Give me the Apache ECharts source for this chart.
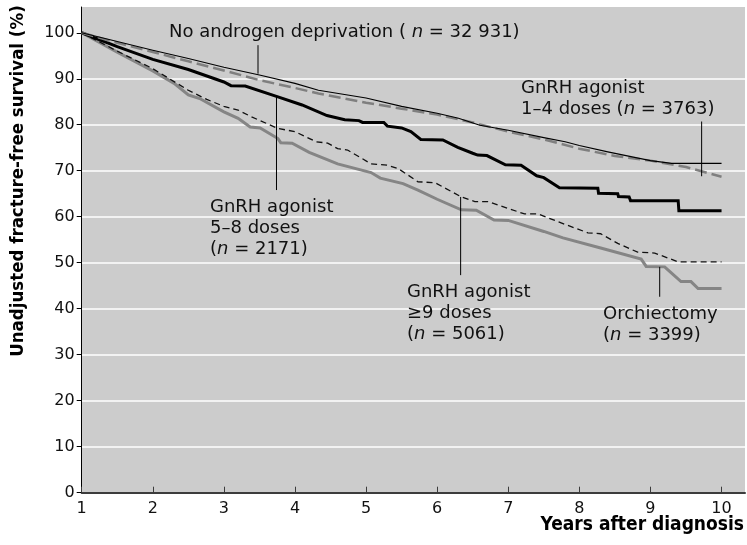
<!DOCTYPE html>
<html>
<head>
<meta charset="utf-8">
<script src="https://cdn.jsdelivr.net/npm/echarts@6/dist/echarts.min.js"></script>
<style>
  html, body { margin: 0; padding: 0; background: #ffffff; }
  #chart { width: 747px; height: 545px; }
</style>
</head>
<body>
<div id="chart"></div>
<script>
// Fracture-free survival curves by androgen-deprivation group, [years, %]
const noAdt = [
  [1, 100], [1.5, 98.1], [2, 96.2], [2.5, 94.4], [3, 92.5], [3.5, 90.8], [4, 89.0],
  [4.33, 87.5], [5, 85.8], [5.5, 84.0], [6, 82.5], [6.3, 81.4], [6.6, 79.9], [7, 78.8],
  [7.5, 77.2], [7.8, 76.3], [8, 75.5], [8.4, 74.1], [9, 72.2], [9.3, 71.6], [10, 71.6]
];
const doses1to4 = [
  [1, 100], [1.5, 97.8], [2, 95.8], [2.5, 93.8], [3, 91.8], [3.5, 89.7], [4, 88.0],
  [4.33, 86.8], [5, 84.8], [5.5, 83.5], [6, 82.2], [6.5, 80.5], [7, 78.5], [7.5, 76.8],
  [8, 74.8], [8.5, 73.2], [9, 72.2], [9.5, 70.8], [10, 68.7]
];
const doses5to8 = [
  [1, 100], [1.5, 97.0], [2, 94.2], [2.5, 92.0], [3, 89.3], [3.1, 88.5], [3.3, 88.4],
  [3.75, 86.1], [4.1, 84.3], [4.45, 82.0], [4.7, 81.1], [4.9, 80.9], [4.95, 80.5],
  [5.25, 80.5], [5.3, 79.7], [5.5, 79.3], [5.63, 78.5], [5.77, 76.8], [6.08, 76.7],
  [6.29, 75.1], [6.5, 73.8], [6.57, 73.4], [6.7, 73.3], [6.96, 71.3], [7.18, 71.2],
  [7.4, 68.9], [7.5, 68.5], [7.72, 66.3], [8.26, 66.2], [8.27, 65.1], [8.54, 65.0],
  [8.55, 64.4], [8.7, 64.3], [8.72, 63.5], [9.39, 63.5], [9.4, 61.3], [10, 61.3]
];
const doses9plus = [
  [1, 100], [1.5, 96.0], [2, 92.2], [2.5, 87.5], [2.76, 85.5], [3, 84.0], [3.2, 83.2],
  [3.39, 81.7], [3.76, 79.2], [4, 78.5], [4.3, 76.3], [4.46, 76.0], [4.6, 74.8],
  [4.74, 74.5], [5.07, 71.5], [5.3, 71.2], [5.45, 70.5], [5.73, 67.6], [5.97, 67.4],
  [6.34, 64.3], [6.53, 63.3], [6.71, 63.3], [7, 61.8], [7.23, 60.6], [7.42, 60.6],
  [7.77, 58.5], [8.12, 56.5], [8.3, 56.3], [8.54, 54.2], [8.82, 52.3], [9.06, 52.1],
  [9.39, 50.2], [10, 50.2]
];
const orchiectomy = [
  [1, 100], [1.5, 95.8], [2, 91.7], [2.3, 89.0], [2.5, 86.5], [2.66, 85.7], [3, 82.8],
  [3.2, 81.4], [3.37, 79.5], [3.51, 79.3], [3.76, 77.0], [3.8, 76.1], [3.96, 76.0],
  [4.2, 74.0], [4.6, 71.5], [5.07, 69.6], [5.2, 68.4], [5.52, 67.2], [5.73, 65.8],
  [6, 63.8], [6.34, 61.5], [6.55, 61.4], [6.8, 59.3], [7, 59.2], [7.5, 56.8],
  [7.77, 55.4], [8.3, 53.2], [8.87, 50.8], [8.94, 49.2], [9.2, 49.1], [9.25, 48.4],
  [9.43, 45.9], [9.57, 45.9], [9.67, 44.4], [10, 44.4]
];

// Axis ticks
const xTicks = [1, 2, 3, 4, 5, 6, 7, 8, 9, 10];
const yTicks = [0, 10, 20, 30, 40, 50, 60, 70, 80, 90, 100];

// Leader lines from each group label to its curve: [year, from %, to %]
const leaders = [
  [3.48, 97.3, 91.1],
  [3.74, 86.2, 65.8],
  [6.33, 64.3, 47.3],
  [9.72, 80.7, 68.8],
  [9.13, 49.1, 42.6]
];

const TXT = 'DejaVu Sans, sans-serif';
const BOLD = "'Liberation Sans Narrow', 'DejaVu Sans Condensed', sans-serif";

function curve(data, color, width, dash, z) {
  return {
    type: 'line', data: data, showSymbol: false, silent: true, z: z,
    lineStyle: { color: color, width: width, type: dash || 'solid', cap: 'butt', join: 'miter' }
  };
}

const series = [
  curve(orchiectomy, '#858585', 3, null, 2),
  curve(doses9plus, '#111111', 1.3, [6, 4], 3),
  curve(doses5to8, '#000000', 3, null, 4),
  curve(doses1to4, '#7f7f7f', 2.5, [12, 5], 5),
  curve(noAdt, '#000000', 1.1, null, 6)
];
leaders.forEach(function (l) {
  series.push({
    type: 'line', data: [[l[0], l[1]], [l[0], l[2]]], showSymbol: false, silent: true, z: 7,
    lineStyle: { color: '#000000', width: 1 }
  });
});

const rich = {
  i: { fontStyle: 'italic', fontFamily: TXT, fontSize: 18, fill: '#111' }
};
function label(x, y, lines) {
  return lines.map(function (t, k) {
    return {
      type: 'text', left: x, top: y + k * 21.3, z: 20, silent: true,
      style: { text: t, fontFamily: TXT, fontSize: 18, fill: '#111', rich: rich }
    };
  });
}

const graphics = [].concat(
  label(169, 23, ['No androgen deprivation ( {i|n} = 32 931)']),
  label(521, 79, ['GnRH agonist', '1–4 doses ({i|n} = 3763)']),
  label(210, 198, ['GnRH agonist', '5–8 doses', '({i|n} = 2171)']),
  label(407, 283, ['GnRH agonist', '≥9 doses', '({i|n} = 5061)']),
  label(603, 305, ['Orchiectomy', '({i|n} = 3399)']),
  [
    {
      type: 'text', right: 3, top: 516, silent: true,
      style: { text: 'Years after diagnosis', fontFamily: BOLD, fontWeight: 'bold', fontSize: 19, fill: '#000' }
    },
    {
      type: 'text', x: 18, y: 181, rotation: Math.PI / 2, silent: true,
      style: {
        text: 'Unadjusted fracture-free survival (%)', fontFamily: BOLD, fontWeight: 'bold',
        fontSize: 18.5, fill: '#000', align: 'center', verticalAlign: 'middle'
      }
    }
  ]
);

const chart = echarts.init(document.getElementById('chart'), null, { renderer: 'canvas' });
chart.setOption({
  animation: false,
  backgroundColor: '#ffffff',
  grid: {
    left: 81.7, right: 2, top: 7, bottom: 52.3,
    show: true, backgroundColor: '#cccccc', borderWidth: 0
  },
  xAxis: {
    type: 'value', min: 1, max: 10.33,
    axisLine: { show: true, lineStyle: { color: '#3c3c3c', width: 2 } },
    axisTick: { show: true, inside: true, length: 6, customValues: xTicks, lineStyle: { color: '#3c3c3c', width: 1 } },
    axisLabel: { customValues: xTicks, fontFamily: TXT, fontSize: 16, color: '#111', margin: 8 },
    splitLine: { show: false }
  },
  yAxis: {
    type: 'value', min: 0, max: 105.6,
    axisLine: { show: true, lineStyle: { color: '#000', width: 1 } },
    axisTick: { show: true, inside: false, length: 5, customValues: yTicks, lineStyle: { color: '#000', width: 1 } },
    axisLabel: { customValues: yTicks, fontFamily: TXT, fontSize: 16, color: '#111', margin: 7 },
    splitLine: {
      show: true, showMinLine: false, showMaxLine: false,
      lineStyle: { color: '#ffffff', width: 1.5 }
    }
  },
  series: series,
  graphic: graphics
});
</script>
</body>
</html>
